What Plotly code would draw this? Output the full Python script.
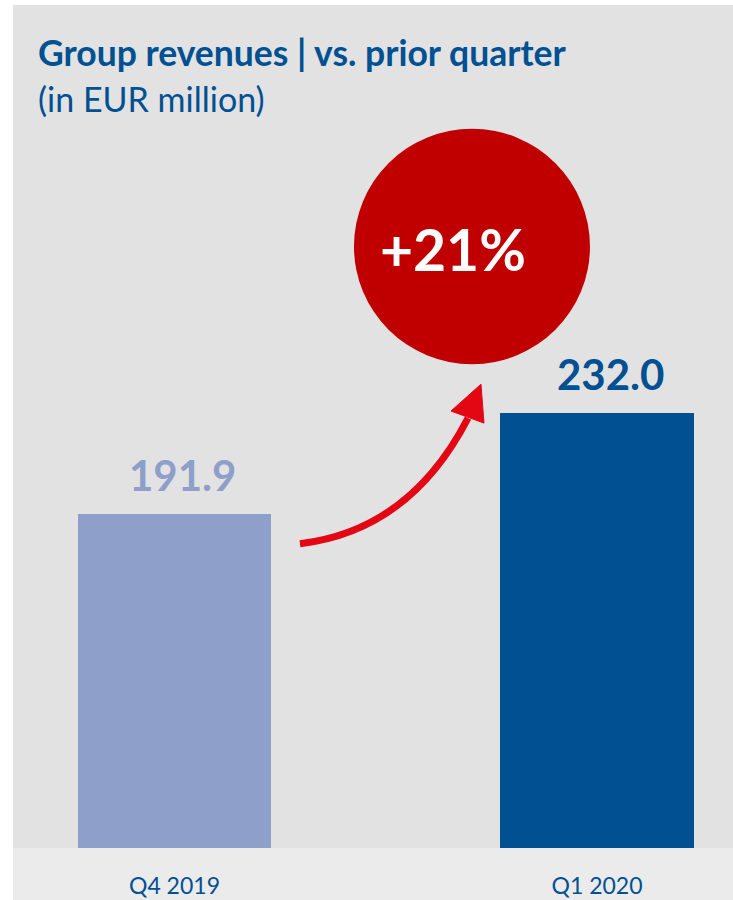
import plotly.graph_objects as go

# ---- data ----
categories = ["Q4 2019", "Q1 2020"]
revenues = [191.9, 232.0]
value_labels = ["191.9", "232.0"]
growth_label = "+21%"
title_text = "Group revenues | vs. prior quarter"
subtitle_text = "(in EUR million)"

# ---- styles ----
bar_colors = ["#8e9fca", "#005092"]
label_colors = ["#8e9fca", "#005092"]
label_xshift = [8, 14]
blue = "#005092"
circle_red = "#c00000"
arrow_red = "#e30613"
bg_gray = "#e2e2e2"
floor_gray = "#ebebeb"
FONT = "Lato"

W, H = 733, 900
ML, MR, MT, MB = 13, 0, 5, 52
X_RANGE = [-0.3822, 1.3219]
Y_RANGE = [58.9, 394.4]
PW, PH = W - ML - MR, H - MT - MB

fig = go.Figure()
fig.add_trace(go.Bar(
    x=[0, 1], y=revenues, width=0.4568,
    marker=dict(color=bar_colors, line=dict(width=0)),
    hoverinfo="skip", showlegend=False,
))

# value labels above bars
for i, (v, t) in enumerate(zip(revenues, value_labels)):
    fig.add_annotation(x=i, y=v, xref="x", yref="y", text="<b>%s</b>" % t,
                       showarrow=False, yanchor="bottom", yshift=12, xshift=label_xshift[i],
                       font=dict(family=FONT, size=42, color=label_colors[i]))

# growth circle
cx, cy, rx, ry = 0.7041, 298.3, 0.2793, 46.85
fig.add_shape(type="circle", xref="x", yref="y",
              x0=cx - rx, x1=cx + rx, y0=cy - ry, y1=cy + ry,
              fillcolor=circle_red, line=dict(width=0), layer="above")
fig.add_annotation(x=0.6592, y=297.4, xref="x", yref="y",
                   text="<b>%s</b>" % growth_label, showarrow=False,
                   font=dict(family=FONT, size=57, color="white"))

# curved arrow
fig.add_shape(type="path", xref="x", yref="y",
              path="M 0.297,180.0 Q 0.557,185.2 0.6947,230.0",
              line=dict(color=arrow_red, width=7), layer="above")
fig.add_shape(type="path", xref="x", yref="y",
              path="M 0.7254,243.5 L 0.6544,232.8 L 0.7325,228.0 Z",
              fillcolor=arrow_red, line=dict(color=arrow_red, width=1), layer="above")

# floor band below plot
fig.add_shape(type="rect", xref="paper", yref="paper",
              x0=0, x1=1, y0=-MB / PH, y1=0,
              fillcolor=floor_gray, line=dict(width=0), layer="below")

# titles
fig.add_annotation(xref="paper", yref="paper", x=23 / PW, y=1 - 47 / PH,
                   xanchor="left", yanchor="middle", showarrow=False,
                   text="<b>%s</b>" % title_text,
                   font=dict(family=FONT, size=35.5, color=blue))
fig.add_annotation(xref="paper", yref="paper", x=23 / PW, y=1 - 94 / PH,
                   xanchor="left", yanchor="middle", showarrow=False,
                   text=subtitle_text,
                   font=dict(family=FONT, size=34, color=blue))

fig.update_layout(
    width=W, height=H,
    margin=dict(l=ML, r=MR, t=MT, b=MB, pad=0),
    paper_bgcolor="white", plot_bgcolor=bg_gray,
    xaxis=dict(range=X_RANGE, tickmode="array", tickvals=[0, 1], ticktext=categories,
               showgrid=False, zeroline=False, showline=False, ticks="",
               ticklabelstandoff=22,
               tickfont=dict(family=FONT, size=23, color=blue), fixedrange=True),
    yaxis=dict(range=Y_RANGE, visible=False, showgrid=False, zeroline=False, fixedrange=True),
    bargap=0,
)

fig.write_html("out.html", config={"displayModeBar": False},
               post_script="document.body.style.margin='0';document.body.style.overflow='hidden';")
